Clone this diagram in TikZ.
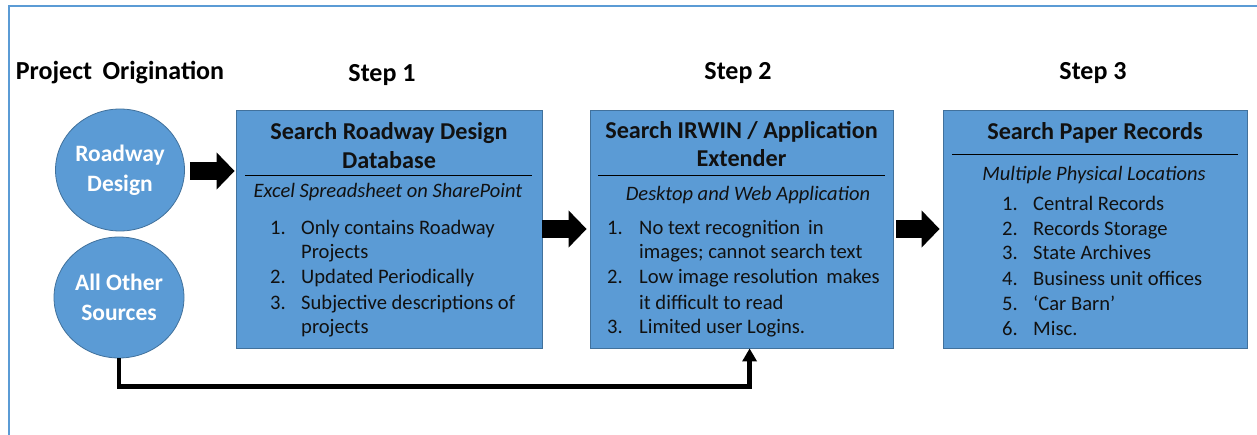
\documentclass[tikz,border=0pt]{standalone}
\usepackage{fontspec}
\setmainfont{Carlito}
\usetikzlibrary{arrows.meta,shapes.geometric,calc}
\definecolor{fillb}{HTML}{5B9BD5}
\definecolor{edgeb}{HTML}{41719C}
\definecolor{frameb}{HTML}{5B9BD5}
\definecolor{txt}{HTML}{111111}
\tikzset{
  hdr/.style={font=\bfseries\fontsize{26}{30}\selectfont, text=black, inner sep=0pt},
  box/.style={draw=edgeb, line width=0.8pt, fill=fillb, inner sep=0pt},
  circ/.style={ellipse, draw=edgeb, line width=0.8pt, fill=fillb, inner sep=0pt, align=center,
     text=white, font=\bfseries\fontsize{23.5}{29.5}\selectfont},
  ttl/.style={font=\bfseries\fontsize{24.2}{28.5}\selectfont, align=center, text=txt, inner sep=0pt},
  sub/.style={font=\itshape\fontsize{20.5}{24}\selectfont, text=txt, inner sep=0pt},
  itm/.style={font=\fontsize{20.6}{24}\selectfont, text=txt, inner sep=0pt, anchor=base west},
  rulel/.style={line width=1pt, black},
  blk/.style={line width=18pt, black, -{Triangle[length=18pt,width=36pt]}},
  conn/.style={line width=4.5pt, black, -{Triangle[length=13pt,width=14pt]}},
}
\begin{document}
\begin{tikzpicture}[x=1pt,y=-1pt]
\useasboundingbox (0,0) rectangle (1257,435);
\draw[frameb, line width=1.5pt] (1258,6) -- (9,6) -- (9,436);

% headers
\node[hdr] (h0) at (120,73) {Project\hspace{0.4em}Origination};
\node[hdr] (h1) at (382,75) {Step 1};
\node[hdr] (h2) at (738,73) {Step 2};
\node[hdr] (h3) at (1093,73) {Step 3};

% origin circles
\node[circ, minimum width=129pt, minimum height=122pt] (rd) at (120,170) {Roadway\\Design};
\node[circ, minimum width=130pt, minimum height=121pt] (aos) at (119,297.5) {All Other\\Sources};

% boxes
\node[box, minimum width=306pt, minimum height=238pt] (b1) at (389,229) {};
\node[box, minimum width=303pt, minimum height=238pt] (b2) at (741.5,229) {};
\node[box, minimum width=304pt, minimum height=238pt] (b3) at (1095,229) {};

% titles
\node[ttl] (t1) at (389,145.5) {Search Roadway Design\\Database};
\node[ttl] (t2) at (741.5,144) {Search IRWIN / Application\\Extender};
\node[ttl] (t3) at (1095,133) {Search Paper Records};

% rules
\draw[rulel] (245,176) -- (532,176);
\draw[rulel] (598,176) -- (885,176);
\draw[rulel] (952,155) -- (1238,155);

% subtitles
\node[sub] (s1) at (388,192) {Excel Spreadsheet on SharePoint};
\node[sub] (s2) at (748,195) {Desktop and Web Application};
\node[sub] (s3) at (1094,175) {Multiple Physical Locations};

% box 1 list
\foreach \yy/\nn/\tt [count=\i] in {228/1./Only contains Roadway, 252//Projects, 277/2./Updated Periodically, 302/3./Subjective descriptions of, 327//projects}{
  \node[itm] (an\i) at (270,\yy+7) {\nn};
  \node[itm] (at\i) at (301,\yy+7) {\tt};
}
% box 2 list
\foreach \yy/\nn/\tt [count=\i] in {228/1./No text recognition\, in, 252//{images; cannot search text}, 277/2./Low image resolution\, makes, 302//it difficult to read, 327/3./Limited user Logins.}{
  \node[itm] (bn\i) at (607,\yy+7) {\nn};
  \node[itm] (bt\i) at (639,\yy+7) {\tt};
}
% box 3 list
\foreach \yy/\nn/\tt [count=\i] in {204/1./Central Records, 229/2./Records Storage, 253/3./State Archives, 279/4./Business unit offices, 304/5./‘Car Barn’, 328/6./Misc.}{
  \node[itm] (cn\i) at (1002,\yy+7) {\nn};
  \node[itm] (ct\i) at (1033,\yy+7) {\tt};
}

% block arrows
\draw[blk] ($(rd.east)+(5,1)$) -- ($(b1.west |- rd.east)+(-1,1)$);
\draw[blk] (b1.east) -- ($(b2.west)+(-3,0)$);
\draw[blk] ($(b2.east)+(3,0)$) -- ($(b3.west)+(-3,0)$);

% bottom connector
\coordinate (in2) at ($(b2.south west)+(160,0)$);
\draw[conn] (aos.south) |- ($(in2)+(0,38)$) -- (in2);
\end{tikzpicture}
\end{document}
